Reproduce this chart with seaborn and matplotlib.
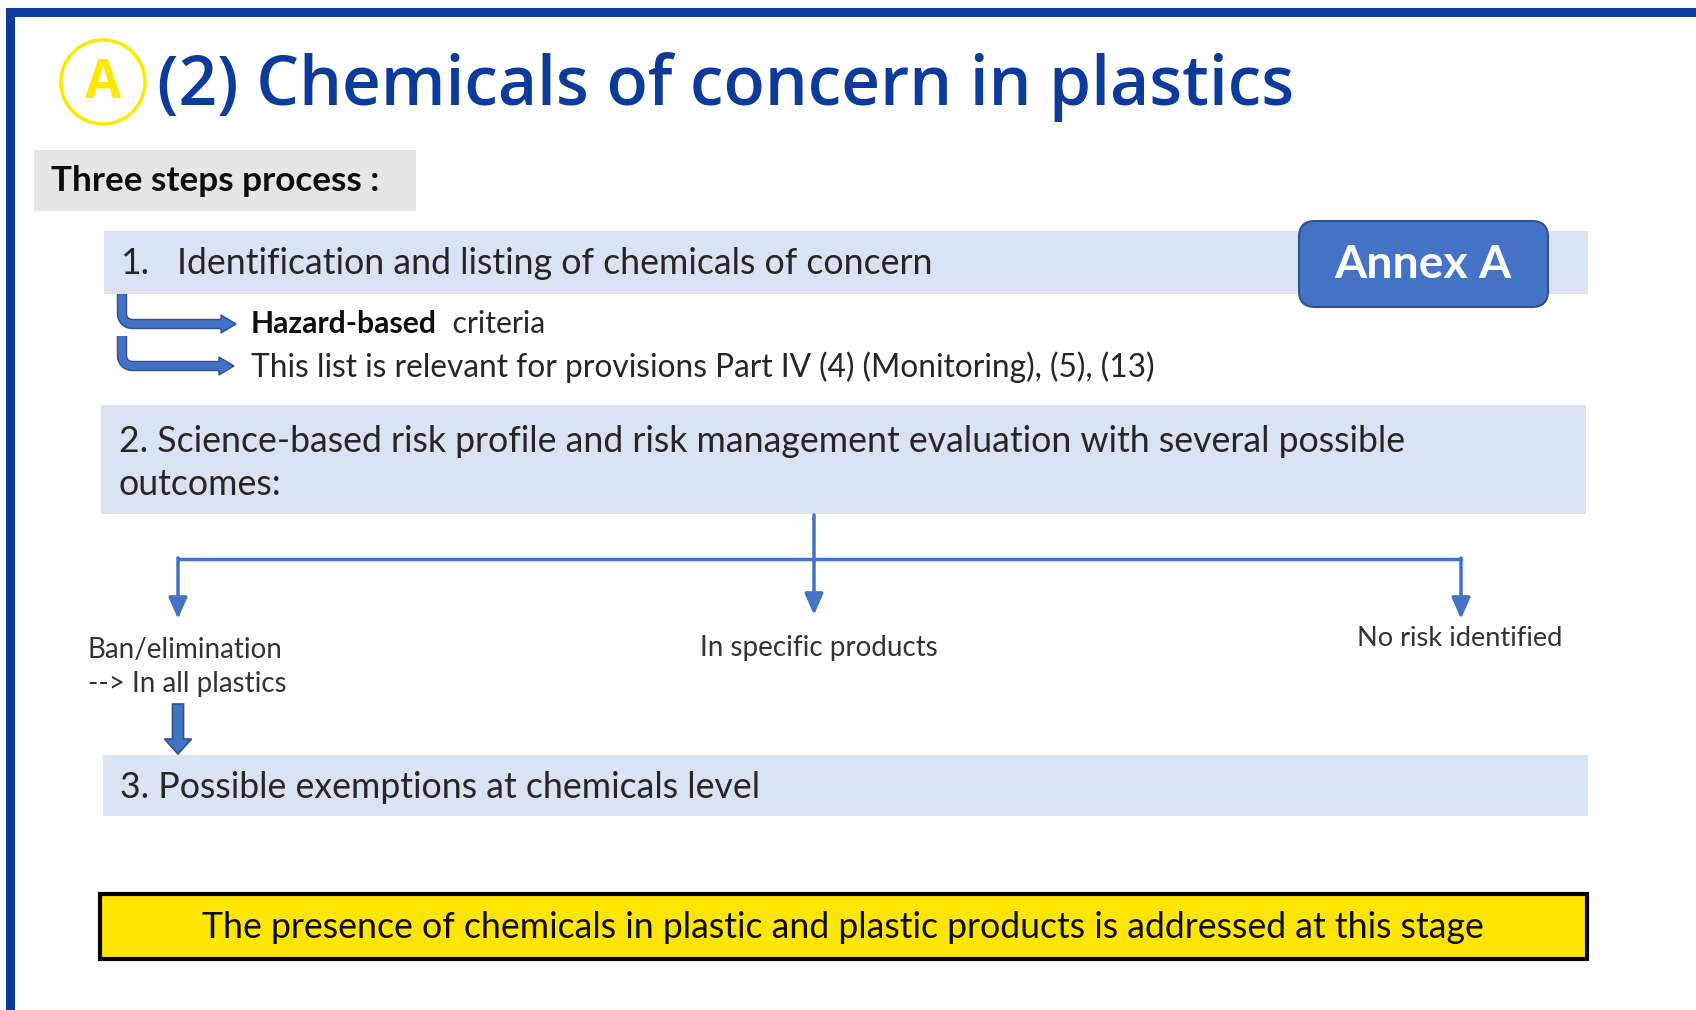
import matplotlib
matplotlib.use("Agg")
import matplotlib.pyplot as plt
import matplotlib.patheffects as pe
import numpy as np
import seaborn as sns
from matplotlib.patches import Rectangle, FancyBboxPatch, Ellipse, Polygon, FancyArrow

# slide text
TITLE = "(2) Chemicals of concern in plastics"
BADGE = "A"
INTRO = "Three steps process :"
STEP_NUMS = ["1.", "2.", "3."]
STEPS = [
    "Identification and listing of chemicals of concern",
    "Science-based risk profile and risk management evaluation with several possible\noutcomes:",
    "Possible exemptions at chemicals level",
]
ANNEX = "Annex A"
CRITERIA_BOLD = "Hazard-based"
CRITERIA_REST = "  criteria"
RELEVANCE = "This list is relevant for provisions Part IV (4) (Monitoring), (5), (13)"
OUTCOMES = ["Ban/elimination\n--> In all plastics", "In specific products", "No risk identified"]
FOOTER = "The presence of chemicals in plastic and plastic products is addressed at this stage"

NAVY = "#0D3B9C"
PALE = "#DAE3F3"
MID = "#4472C4"
EDGE = "#2F528F"
TXT = "#262626"

sns.set_theme(style="white")
plt.rcParams["font.family"] = ["Lato", "DejaVu Sans"]

fig = plt.figure(figsize=(16.96, 10.10), dpi=100)
ax = fig.add_axes([0, 0, 1, 1])
ax.set_xlim(0, 1696)
ax.set_ylim(1010, 0)
ax.axis("off")

# frame
ax.plot([10, 10, 1696], [1010, 12, 12], color=NAVY, lw=6.5, solid_joinstyle="miter")

# title
ax.add_patch(Ellipse((103, 82), 84, 84, fill=False, ec="#FFE800", lw=2.5))
ax.text(103, 84, BADGE, ha="center", va="center", fontsize=38, fontweight="bold",
        color="#FFE800", family=["Open Sans", "DejaVu Sans"])
ax.text(157, 105, TITLE, ha="left", va="baseline", fontsize=48.7, fontweight="semibold",
        color=NAVY, family=["Open Sans", "DejaVu Sans"])

# intro tag
ax.add_patch(Rectangle((34, 150), 382, 61, fc="#E7E6E6", ec="none"))
ax.text(51, 181, INTRO, ha="left", va="center", fontsize=25.3, fontweight="bold", color="#0D0D0D")

# step boxes
boxes = [(104, 231, 1484, 63), (101, 405, 1485, 109), (103, 755, 1485, 61)]
for (bx, by, bw, bh) in boxes:
    ax.add_patch(Rectangle((bx, by), bw, bh, fc=PALE, ec="none"))

FS = 25.7
ax.text(120, 263, STEP_NUMS[0], ha="left", va="center", fontsize=FS, color=TXT)
ax.text(177, 263, STEPS[0], ha="left", va="center", fontsize=FS, color=TXT)
ax.text(119, 463, STEP_NUMS[1] + " " + STEPS[1], ha="left", va="center", fontsize=FS,
        color=TXT, linespacing=1.34)
ax.text(120, 787, STEP_NUMS[2] + " " + STEPS[2], ha="left", va="center", fontsize=FS, color=TXT)

# annex badge
ax.add_patch(FancyBboxPatch((1299, 221), 249, 86, boxstyle="round,pad=0,rounding_size=16",
                            fc=MID, ec=EDGE, lw=1.5))
ax.text(1423, 265, ANNEX, ha="center", va="center", fontsize=33.4, fontweight="bold", color="white")


def bent_arrow(x, y0, y1, x_tip, r=10):
    # vertical drop, rounded corner, then run right into the head
    th = np.linspace(np.pi, np.pi / 2, 8)
    xs = [x] + list(x + r + r * np.cos(th)) + [x_tip - 14]
    ys = [y0] + list(y1 - r + r * np.sin(th)) + [y1]
    ax.plot(xs, ys, color=MID, lw=5.5, solid_joinstyle="round", solid_capstyle="butt",
            path_effects=[pe.Stroke(linewidth=7.5, foreground=EDGE), pe.Normal()])
    ax.add_patch(Polygon([(x_tip - 15, y1 - 9), (x_tip, y1), (x_tip - 15, y1 + 9)],
                         closed=True, fc=MID, ec=EDGE, lw=1))


bent_arrow(122, 294, 324, 236)
bent_arrow(122, 336, 366, 234)

t1 = ax.text(251, 324, CRITERIA_BOLD, ha="left", va="center", fontsize=21.7, fontweight="bold",
             color="#0D0D0D")
ax.annotate(CRITERIA_REST, xy=(1, 0), xycoords=t1, ha="left", va="bottom", fontsize=21.7, color=TXT)
ax.text(251, 367, RELEVANCE, ha="left", va="center", fontsize=22.8, color=TXT)

# outcome tree
outcome_x = [178, 814, 1461]
ax.plot([outcome_x[0], outcome_x[2]], [559, 559], color=MID, lw=2.5)
arrow_kw = dict(arrowstyle="-|>,head_width=0.35,head_length=0.8", color=MID, lw=2.5,
                shrinkA=0, shrinkB=0, mutation_scale=16)
ax.annotate("", xy=(outcome_x[1], 615), xytext=(outcome_x[1], 515), arrowprops=arrow_kw)
ax.annotate("", xy=(outcome_x[0], 619), xytext=(outcome_x[0], 558), arrowprops=arrow_kw)
ax.annotate("", xy=(outcome_x[2], 619), xytext=(outcome_x[2], 558), arrowprops=arrow_kw)

ax.text(88, 667, OUTCOMES[0], ha="left", va="center", fontsize=20, color="#333333", linespacing=1.40)
ax.text(819, 648, OUTCOMES[1], ha="center", va="center", fontsize=20, color="#333333")
ax.text(1460, 639, OUTCOMES[2], ha="center", va="center", fontsize=19.6, color="#333333")

ax.add_patch(FancyArrow(178, 704, 0, 50, width=11, head_width=27, head_length=15,
                        length_includes_head=True, fc=MID, ec=EDGE, lw=1.2))

# footer
ax.add_patch(Rectangle((100, 894), 1487, 65, fc="#FFE600", ec="black", lw=3))
ax.text(843, 928, FOOTER, ha="center", va="center", fontsize=FS, color="#0D0D0D")

fig.savefig("out.png", dpi=100)
